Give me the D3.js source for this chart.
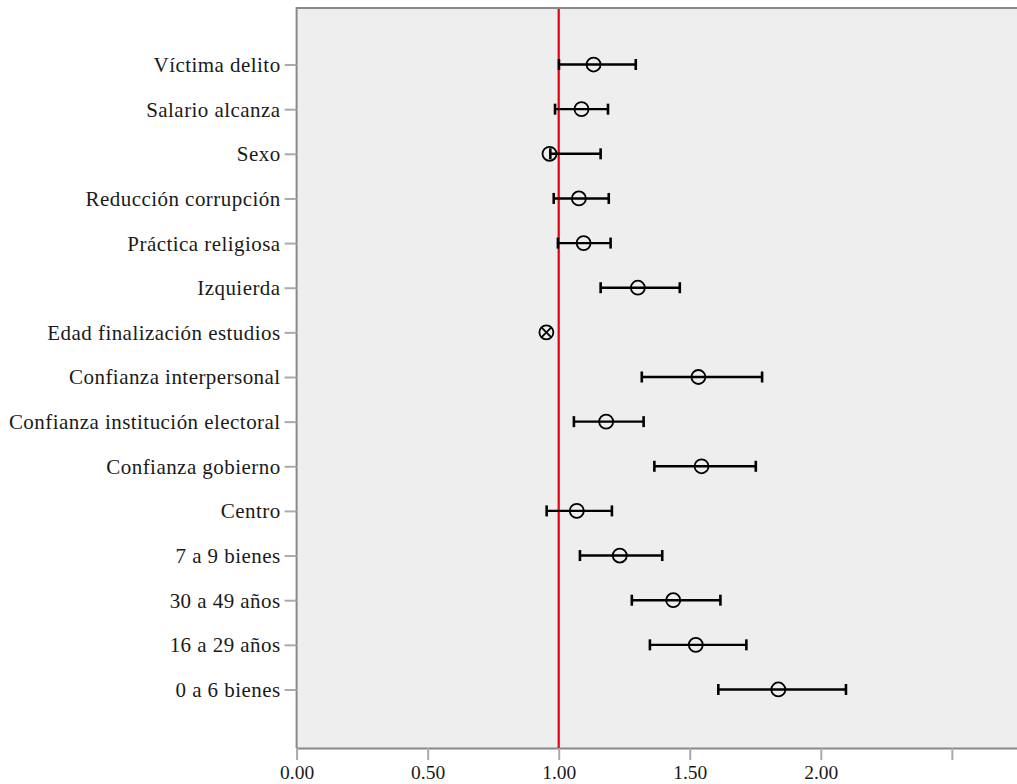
<!DOCTYPE html>
<html>
<head>
<meta charset="utf-8">
<script src="https://cdn.jsdelivr.net/npm/d3@7"></script>
<style>
  html, body { margin: 0; padding: 0; background: #fff; }
  svg { display: block; }
  text { font-family: "Liberation Serif", "Times New Roman", serif; fill: #1a1a1a; }
</style>
</head>
<body>
<svg id="chart" width="1017" height="784"></svg>
<script>
// Categories (top to bottom)
const categories = [
  "Víctima delito", "Salario alcanza", "Sexo", "Reducción corrupción",
  "Práctica religiosa", "Izquierda", "Edad finalización estudios",
  "Confianza interpersonal", "Confianza institución electoral",
  "Confianza gobierno", "Centro", "7 a 9 bienes", "30 a 49 años",
  "16 a 29 años", "0 a 6 bienes"
];
// Point estimates (odds ratios)
const estimates = [1.133, 1.087, 0.965, 1.077, 1.095, 1.302, 0.953, 1.533, 1.181, 1.545, 1.069, 1.233, 1.437, 1.523, 1.838];
// Lower and upper confidence limits (null = no interval drawn)
const lower = [1.001, 0.986, 0.968, 0.981, 0.997, 1.160, null, 1.317, 1.058, 1.365, 0.954, 1.081, 1.279, 1.348, 1.609];
const upper = [1.294, 1.188, 1.160, 1.191, 1.198, 1.462, null, 1.776, 1.324, 1.752, 1.203, 1.395, 1.617, 1.716, 2.096];
// Marker type: crossed circle for the variable without interval
const crossed = [false, false, false, false, false, false, true, false, false, false, false, false, false, false, false];
// X tick values / labels
const xTicks = [0, 0.5, 1.0, 1.5, 2.0, 2.5];
const xTickLabels = ["0.00", "0.50", "1.00", "1.50", "2.00", ""];
const referenceValue = 1.0;

const svg = d3.select("#chart");
const plotLeft = 296.6, plotTop = 8, plotBottom = 748;

const x = d3.scaleLinear().domain([0, 2.75]).range([plotLeft, plotLeft + 262.1 * 2.75]);
const y = d3.scalePoint().domain(categories).range([plotTop - 1.5, plotBottom - 0.5]).padding(1.3);

// Plot background
svg.append("rect")
  .attr("x", plotLeft).attr("y", plotTop)
  .attr("width", 1017 - plotLeft + 5).attr("height", plotBottom - plotTop)
  .attr("fill", "#eeeeee");

// Frame (top and left)
svg.append("line").attr("x1", plotLeft).attr("x2", 1017).attr("y1", plotTop).attr("y2", plotTop)
  .attr("stroke", "#888").attr("stroke-width", 2);
svg.append("line").attr("x1", plotLeft).attr("x2", plotLeft).attr("y1", plotTop - 1).attr("y2", plotBottom)
  .attr("stroke", "#888").attr("stroke-width", 2);

// X axis
const xAxis = d3.axisBottom(x).tickValues(xTicks)
  .tickFormat((d, i) => xTickLabels[i]).tickSize(12).tickPadding(5);
const gx = svg.append("g").attr("transform", `translate(0,${plotBottom})`).call(xAxis);
gx.select(".domain").attr("stroke", "#888").attr("stroke-width", 2)
  .attr("d", `M${plotLeft},0.5H1017`);
gx.selectAll(".tick line").attr("stroke", "#aaa").attr("stroke-width", 2);
gx.selectAll(".tick text").attr("font-size", 19.5).attr("fill", "#1a1a1a")
  .style("font-family", '"Liberation Serif", serif');

// Y axis
const yAxis = d3.axisLeft(y).tickSize(12).tickPadding(4);
const gy = svg.append("g").attr("transform", `translate(${plotLeft},0)`).call(yAxis);
gy.select(".domain").remove();
gy.selectAll(".tick line").attr("stroke", "#aaa").attr("stroke-width", 2);
gy.selectAll(".tick text").attr("font-size", 21).attr("fill", "#1a1a1a")
  .attr("dy", "0.33em")
  .style("letter-spacing", "0.45px")
  .style("font-family", '"Liberation Serif", serif');

// Reference line
svg.append("line")
  .attr("x1", x(referenceValue)).attr("x2", x(referenceValue))
  .attr("y1", plotTop + 1).attr("y2", plotBottom)
  .attr("stroke", "#e4000f").attr("stroke-width", 2.2);

const data = categories.map((c, i) => ({
  c, est: estimates[i], lo: lower[i], hi: upper[i], crossed: crossed[i]
}));

const g = svg.append("g");
const capH = 5.5;
data.forEach(d => {
  const cy = y(d.c);
  if (d.lo !== null && d.hi !== null) {
    g.append("line").attr("x1", x(d.lo)).attr("x2", x(d.hi)).attr("y1", cy).attr("y2", cy)
      .attr("stroke", "#000").attr("stroke-width", 2.4);
    [d.lo, d.hi].forEach(v => {
      g.append("line").attr("x1", x(v)).attr("x2", x(v))
        .attr("y1", cy - capH).attr("y2", cy + capH)
        .attr("stroke", "#000").attr("stroke-width", 2.6);
    });
  }
  const cx = x(d.est);
  g.append("circle").attr("cx", cx).attr("cy", cy).attr("r", 7)
    .attr("fill", "none").attr("stroke", "#000").attr("stroke-width", 1.8);
  if (d.crossed) {
    const k = 7 * Math.SQRT1_2;
    g.append("line").attr("x1", cx - k).attr("y1", cy - k).attr("x2", cx + k).attr("y2", cy + k)
      .attr("stroke", "#000").attr("stroke-width", 1.8);
    g.append("line").attr("x1", cx - k).attr("y1", cy + k).attr("x2", cx + k).attr("y2", cy - k)
      .attr("stroke", "#000").attr("stroke-width", 1.8);
  }
});
</script>
</body>
</html>
